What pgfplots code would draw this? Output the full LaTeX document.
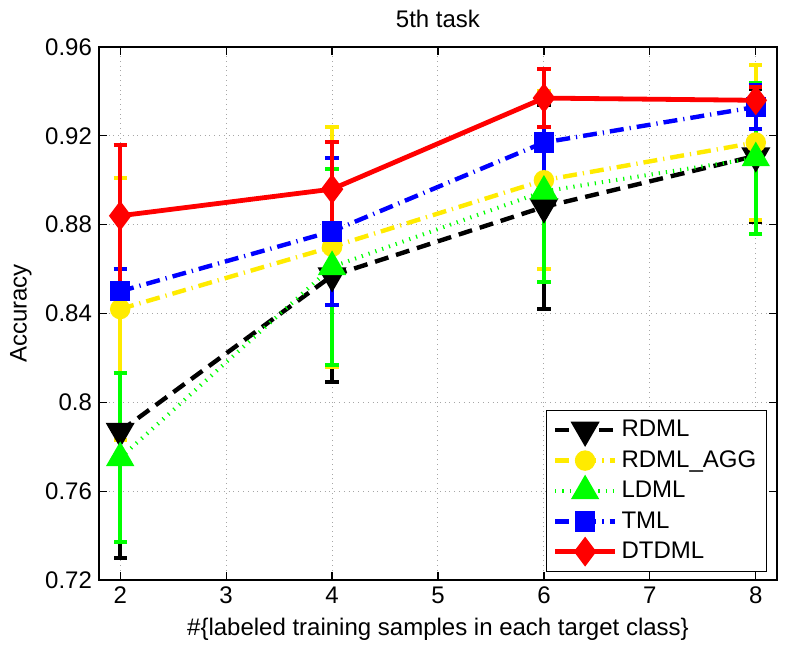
\documentclass[border=0pt]{standalone}
\usepackage{pgfplots}
\pgfplotsset{compat=1.18}
\usepackage{fontspec}
\setmainfont{Liberation Sans}
\definecolor{myyellow}{RGB}{255,235,0}
\begin{document}
\begin{tikzpicture}
\begin{axis}[
  name=ax,
  scale only axis,
  width=339pt, height=266.5pt,
  xmin=1.8, xmax=8.2, ymin=0.72, ymax=0.96,
  xtick={2,3,4,5,6,7,8},
  ytick={0.72,0.76,0.8,0.84,0.88,0.92,0.96},
  yticklabel style={/pgf/number format/.cd, fixed, precision=2},
  /pgf/number format/assume math mode=true,
  tick align=inside,
  xtick pos=both, ytick pos=both,
  major tick length=4pt,
  tick style={black, line width=0.6pt},
  axis line style={line width=0.8pt},
  grid=major,
  grid style={dotted, line width=0.5pt, gray!70},
  font=\fontsize{12}{14}\selectfont,
  tick label style={font=\fontsize{12}{14}\selectfont},
  title={5th task},
  xlabel={\#\{labeled training samples in each target class\}},
  ylabel={Accuracy},
  legend style={at={(0.985,0.015)}, anchor=south east, font=\fontsize{12}{14}\selectfont,
     draw=black, line width=0.6pt, row sep=1.4pt, inner xsep=3pt, inner ysep=3pt},
  legend cell align=left,
  legend image code/.code={
    \draw[mark repeat=2,mark phase=2] plot coordinates {(0pt,0pt) (15pt,0pt) (30pt,0pt)};
  },
  error bars/y dir=both,
  error bars/y explicit,
  error bars/error bar style={solid, line width=2pt},
  error bars/error mark options={solid, rotate=90, mark size=3.3pt, line width=2pt},
]
\addplot[black, line width=2.2pt, dash pattern=on 7pt off 4pt, mark=triangle*, mark size=6.2pt, mark options={solid, rotate=180, fill=black}]
  coordinates {(2,0.787) +- (0,0.057) (4,0.857) +- (0,0.048) (6,0.888) +- (0,0.046) (8,0.911) +- (0,0.030)};
\addlegendentry{RDML}
\addplot[myyellow, line width=2.2pt, dash pattern=on 7pt off 3pt on 0.6pt off 3pt, mark=*, mark size=4pt, mark options={solid, fill=myyellow}]
  coordinates {(2,0.842) +- (0,0.059) (4,0.870) +- (0,0.054) (6,0.900) +- (0,0.040) (8,0.917) +- (0,0.035)};
\addlegendentry{RDML\_AGG}
\addplot[green, line width=2pt, dash pattern=on 0.6pt off 3pt, mark=triangle*, mark size=6.2pt, mark options={solid, fill=green}]
  coordinates {(2,0.775) +- (0,0.038) (4,0.861) +- (0,0.044) (6,0.895) +- (0,0.041) (8,0.910) +- (0,0.034)};
\addlegendentry{LDML}
\addplot[blue, line width=2.2pt, dash pattern=on 7pt off 3pt on 0.6pt off 3pt, mark=square*, mark size=4pt, mark options={solid, fill=blue}]
  coordinates {(2,0.850) +- (0,0.010) (4,0.877) +- (0,0.033) (6,0.917) +- (0,0.022) (8,0.933) +- (0,0.010)};
\addlegendentry{TML}
\addplot[red, line width=2.4pt, solid, mark=diamond*, mark size=5.5pt, mark options={solid, fill=red}]
  coordinates {(2,0.884) +- (0,0.032) (4,0.896) +- (0,0.021) (6,0.937) +- (0,0.013) (8,0.936) +- (0,0.006)};
\addlegendentry{DTDML}
\end{axis}
\path (ax.south west) ++(-49.5pt,-36pt) rectangle ++(405.5pt,326pt);
\end{tikzpicture}
\end{document}
